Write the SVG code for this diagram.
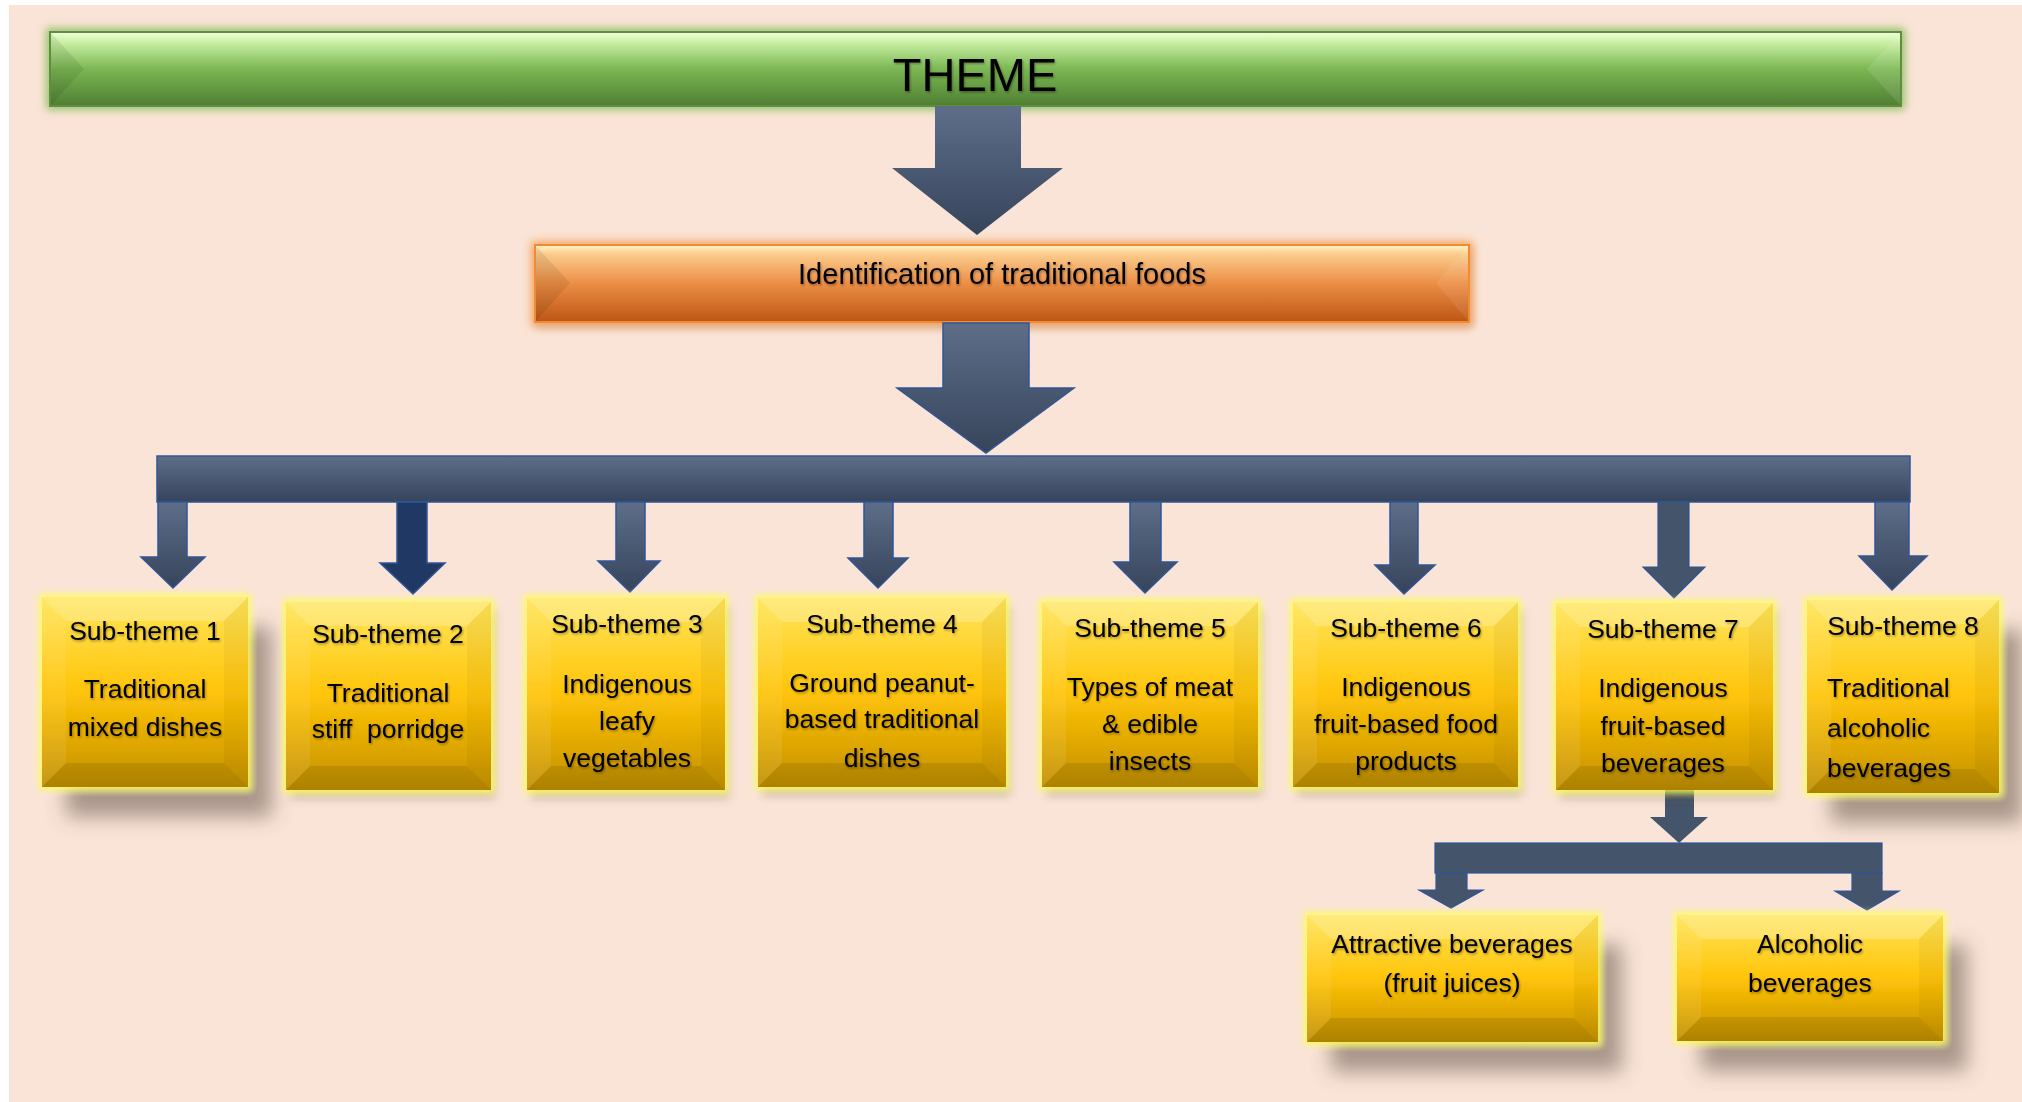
<svg xmlns="http://www.w3.org/2000/svg" width="2022" height="1102" viewBox="0 0 2022 1102">
<defs>
<style>
.t{font-family:"Liberation Sans",Arial,sans-serif;font-size:26.5px;fill:#000;text-anchor:middle;filter:url(#ts)}
.l{text-anchor:start}
.arr{fill:url(#gBlue);stroke:#2F5597;stroke-width:1.5}
.arrD{fill:#203864;stroke:#2F5597;stroke-width:1.5}
.arrS{fill:#44546A;stroke:#2F5597;stroke-width:1.2}
.box{fill:url(#gYel)}
.bt{fill:#fff;opacity:0.22}
.bl{fill:#fff;opacity:0.08}
.br{fill:#000;opacity:0.04}
.bb{fill:#000;opacity:0.09}
</style>
<linearGradient id="gYel" x1="0" y1="0" x2="0" y2="1">
<stop offset="0" stop-color="#FFE55A"/>
<stop offset="0.5" stop-color="#FFC409"/>
<stop offset="0.82" stop-color="#D9A200"/>
<stop offset="1" stop-color="#BF8F00"/>
</linearGradient>
<linearGradient id="gBlue" x1="0" y1="0" x2="0" y2="1">
<stop offset="0" stop-color="#5E6E89"/>
<stop offset="1" stop-color="#36445B"/>
</linearGradient>
<linearGradient id="gGreen" x1="0" y1="0" x2="0" y2="1">
<stop offset="0" stop-color="#F2FFE0"/>
<stop offset="0.12" stop-color="#CDF2A8"/>
<stop offset="0.5" stop-color="#7BB752"/>
<stop offset="1" stop-color="#4F7E33"/>
</linearGradient>
<linearGradient id="gOrange" x1="0" y1="0" x2="0" y2="1">
<stop offset="0" stop-color="#FFF7C4"/>
<stop offset="0.12" stop-color="#FBCB8C"/>
<stop offset="0.5" stop-color="#EC8E45"/>
<stop offset="1" stop-color="#BC5514"/>
</linearGradient>
<filter id="ts" x="-10%" y="-30%" width="120%" height="160%">
<feDropShadow dx="1" dy="1.5" stdDeviation="1" flood-color="#000" flood-opacity="0.35"/>
</filter>
<filter id="fxBig" x="-30%" y="-30%" width="170%" height="170%">
<feGaussianBlur in="SourceAlpha" stdDeviation="10" result="b"/>
<feOffset in="b" dx="24" dy="30" result="ob"/>
<feFlood flood-color="#5a4a40" flood-opacity="0.5"/>
<feComposite in2="ob" operator="in" result="sh"/>
<feMorphology in="SourceAlpha" operator="dilate" radius="3" result="d"/>
<feGaussianBlur in="d" stdDeviation="3" result="gb"/>
<feFlood flood-color="#FFFF55" flood-opacity="0.85"/>
<feComposite in2="gb" operator="in" result="glow"/>
<feMerge><feMergeNode in="sh"/><feMergeNode in="glow"/><feMergeNode in="SourceGraphic"/></feMerge>
</filter>
<filter id="fxSm" x="-20%" y="-20%" width="140%" height="140%">
<feGaussianBlur in="SourceAlpha" stdDeviation="5" result="b"/>
<feOffset in="b" dx="4" dy="8" result="ob"/>
<feFlood flood-color="#5a4a40" flood-opacity="0.35"/>
<feComposite in2="ob" operator="in" result="sh"/>
<feMorphology in="SourceAlpha" operator="dilate" radius="3" result="d"/>
<feGaussianBlur in="d" stdDeviation="3" result="gb"/>
<feFlood flood-color="#FFFF55" flood-opacity="0.85"/>
<feComposite in2="gb" operator="in" result="glow"/>
<feMerge><feMergeNode in="sh"/><feMergeNode in="glow"/><feMergeNode in="SourceGraphic"/></feMerge>
</filter>
<filter id="fxG" x="-5%" y="-40%" width="110%" height="180%">
<feMorphology in="SourceAlpha" operator="dilate" radius="3" result="d"/>
<feGaussianBlur in="d" stdDeviation="4" result="gb"/>
<feFlood flood-color="#8CC063" flood-opacity="0.9"/>
<feComposite in2="gb" operator="in" result="glow"/>
<feMerge><feMergeNode in="glow"/><feMergeNode in="SourceGraphic"/></feMerge>
</filter>
<filter id="fxO" x="-5%" y="-40%" width="110%" height="180%">
<feGaussianBlur in="SourceAlpha" stdDeviation="4" result="b"/>
<feOffset in="b" dx="2" dy="5" result="ob"/>
<feFlood flood-color="#5a4a40" flood-opacity="0.35"/>
<feComposite in2="ob" operator="in" result="sh"/>
<feMorphology in="SourceAlpha" operator="dilate" radius="3" result="d"/>
<feGaussianBlur in="d" stdDeviation="4" result="gb"/>
<feFlood flood-color="#F7A25A" flood-opacity="0.9"/>
<feComposite in2="gb" operator="in" result="glow"/>
<feMerge><feMergeNode in="sh"/><feMergeNode in="glow"/><feMergeNode in="SourceGraphic"/></feMerge>
</filter>
</defs>

<rect x="0" y="0" width="2022" height="1102" fill="#fff"/>
<rect x="9" y="5" width="2013" height="1097" fill="#FAE4D7"/>

<g id="theme">
<g filter="url(#fxG)">
<rect x="50" y="32" width="1851" height="74" fill="url(#gGreen)" stroke="#5E8F3C" stroke-width="2"/>
<polygon points="51,33 84,69 51,105" fill="#000" opacity="0.08"/>
<polygon points="1900,33 1867,69 1900,105" fill="#fff" opacity="0.1"/>
</g>
<text x="975" y="91" style="font-family:'Liberation Sans',Arial,sans-serif;font-size:47px;text-anchor:middle;fill:#000" filter="url(#ts)">THEME</text>
</g>

<g id="identification">
<g filter="url(#fxO)">
<rect x="535" y="245" width="934" height="77" fill="url(#gOrange)" stroke="#F08A34" stroke-width="2"/>
<polygon points="536,246 570,283 536,321" fill="#000" opacity="0.08"/>
<polygon points="1468,246 1436,283 1468,321" fill="#fff" opacity="0.08"/>
</g>
<text x="1002" y="284" style="font-family:'Liberation Sans',Arial,sans-serif;font-size:29px;text-anchor:middle;fill:#000" filter="url(#ts)">Identification of traditional foods</text>
</g>

<g id="connectors">
<polygon points="935,106 1021,106 1021,168 1063,168 977,235 892,168 935,168" fill="url(#gBlue)"/>
<polygon class="arr" points="943,323 1029,323 1029,388 1074,388 986,453 897,388 943,388"/>
<rect class="arr" x="157" y="456" width="1753" height="46"/>
<polygon class="arr" points="158,502 187,502 187,557 205,557 173,588 141,557 158,557"/>
<polygon class="arrD" points="397,502 427,502 427,563 445,563 413,594 380,563 397,563"/>
<polygon class="arr" points="616,502 645,502 645,561 660,561 630,592 598,561 616,561"/>
<polygon class="arr" points="864,502 893,502 893,558 908,558 878,588 848,558 864,558"/>
<polygon class="arr" points="1130,502 1161,502 1161,562 1177,562 1145,593 1114,562 1130,562"/>
<polygon class="arr" points="1390,502 1418,502 1418,565 1435,565 1404,594 1375,565 1390,565"/>
<polygon class="arrS" points="1658,502 1689,502 1689,567 1705,567 1674,598 1643,567 1658,567"/>
<polygon class="arr" points="1875,502 1909,502 1909,556 1927,556 1892,590 1859,556 1875,556"/>
<polygon fill="#44546A" points="1665,790 1694,790 1694,817 1708,817 1679,843 1650,817 1665,817"/>
<rect class="arrS" x="1435" y="843" width="447" height="30"/>
<polygon class="arrS" points="1436,873 1467,873 1467,890 1483,890 1451,908 1419,890 1436,890"/>
<polygon class="arrS" points="1852,873 1882,873 1882,891 1899,891 1867,910 1835,891 1852,891"/>
</g>

<g id="subtheme1">
<g filter="url(#fxBig)">
<rect class="box" x="42" y="597" width="206" height="190"/>
<polygon class="bt" points="42,597 248,597 224,621 66,621"/>
<polygon class="bl" points="42,597 66,621 66,763 42,787"/>
<polygon class="br" points="248,597 224,621 224,763 248,787"/>
<polygon class="bb" points="42,787 66,763 224,763 248,787"/>
</g>
<text class="t" x="145" y="640">Sub-theme 1</text>
<text class="t" x="145" y="698">Traditional</text>
<text class="t" x="145" y="736">mixed dishes</text>
</g>

<g id="subtheme2">
<g filter="url(#fxSm)">
<rect class="box" x="286" y="602" width="205" height="188"/>
<polygon class="bt" points="286,602 491,602 467,626 310,626"/>
<polygon class="bl" points="286,602 310,626 310,766 286,790"/>
<polygon class="br" points="491,602 467,626 467,766 491,790"/>
<polygon class="bb" points="286,790 310,766 467,766 491,790"/>
</g>
<text class="t" x="388" y="643">Sub-theme 2</text>
<text class="t" x="388" y="702">Traditional</text>
<text class="t" x="388" y="738" xml:space="preserve">stiff  porridge</text>
</g>

<g id="subtheme3">
<g filter="url(#fxSm)">
<rect class="box" x="527" y="598" width="198" height="192"/>
<polygon class="bt" points="527,598 725,598 701,622 551,622"/>
<polygon class="bl" points="527,598 551,622 551,766 527,790"/>
<polygon class="br" points="725,598 701,622 701,766 725,790"/>
<polygon class="bb" points="527,790 551,766 701,766 725,790"/>
</g>
<text class="t" x="627" y="633">Sub-theme 3</text>
<text class="t" x="627" y="693">Indigenous</text>
<text class="t" x="627" y="730">leafy</text>
<text class="t" x="627" y="767">vegetables</text>
</g>

<g id="subtheme4">
<g filter="url(#fxSm)">
<rect class="box" x="758" y="598" width="248" height="189"/>
<polygon class="bt" points="758,598 1006,598 982,622 782,622"/>
<polygon class="bl" points="758,598 782,622 782,763 758,787"/>
<polygon class="br" points="1006,598 982,622 982,763 1006,787"/>
<polygon class="bb" points="758,787 782,763 982,763 1006,787"/>
</g>
<text class="t" x="882" y="633">Sub-theme 4</text>
<text class="t" x="882" y="692">Ground peanut-</text>
<text class="t" x="882" y="728">based traditional</text>
<text class="t" x="882" y="767">dishes</text>
</g>

<g id="subtheme5">
<g filter="url(#fxSm)">
<rect class="box" x="1042" y="602" width="216" height="185"/>
<polygon class="bt" points="1042,602 1258,602 1234,626 1066,626"/>
<polygon class="bl" points="1042,602 1066,626 1066,763 1042,787"/>
<polygon class="br" points="1258,602 1234,626 1234,763 1258,787"/>
<polygon class="bb" points="1042,787 1066,763 1234,763 1258,787"/>
</g>
<text class="t" x="1150" y="637">Sub-theme 5</text>
<text class="t" x="1150" y="696">Types of meat</text>
<text class="t" x="1150" y="733">&amp; edible</text>
<text class="t" x="1150" y="770">insects</text>
</g>

<g id="subtheme6">
<g filter="url(#fxSm)">
<rect class="box" x="1293" y="602" width="225" height="185"/>
<polygon class="bt" points="1293,602 1518,602 1494,626 1317,626"/>
<polygon class="bl" points="1293,602 1317,626 1317,763 1293,787"/>
<polygon class="br" points="1518,602 1494,626 1494,763 1518,787"/>
<polygon class="bb" points="1293,787 1317,763 1494,763 1518,787"/>
</g>
<text class="t" x="1406" y="637">Sub-theme 6</text>
<text class="t" x="1406" y="696">Indigenous</text>
<text class="t" x="1406" y="733">fruit-based food</text>
<text class="t" x="1406" y="770">products</text>
</g>

<g id="subtheme7">
<g filter="url(#fxSm)">
<rect class="box" x="1556" y="603" width="217" height="187"/>
<polygon class="bt" points="1556,603 1773,603 1749,627 1580,627"/>
<polygon class="bl" points="1556,603 1580,627 1580,766 1556,790"/>
<polygon class="br" points="1773,603 1749,627 1749,766 1773,790"/>
<polygon class="bb" points="1556,790 1580,766 1749,766 1773,790"/>
</g>
<text class="t" x="1663" y="638">Sub-theme 7</text>
<text class="t" x="1663" y="697">Indigenous</text>
<text class="t" x="1663" y="735">fruit-based</text>
<text class="t" x="1663" y="772">beverages</text>
</g>

<g id="subtheme8">
<g filter="url(#fxBig)">
<rect class="box" x="1807" y="600" width="192" height="193"/>
<polygon class="bt" points="1807,600 1999,600 1975,624 1831,624"/>
<polygon class="bl" points="1807,600 1831,624 1831,769 1807,793"/>
<polygon class="br" points="1999,600 1975,624 1975,769 1999,793"/>
<polygon class="bb" points="1807,793 1831,769 1975,769 1999,793"/>
</g>
<text class="t" x="1903" y="635">Sub-theme 8</text>
<text class="t l" x="1827" y="697">Traditional</text>
<text class="t l" x="1827" y="737">alcoholic</text>
<text class="t l" x="1827" y="777">beverages</text>
</g>

<g id="attractive">
<g filter="url(#fxBig)">
<rect class="box" x="1307" y="915" width="291" height="127"/>
<polygon class="bt" points="1307,915 1598,915 1574,939 1331,939"/>
<polygon class="bl" points="1307,915 1331,939 1331,1018 1307,1042"/>
<polygon class="br" points="1598,915 1574,939 1574,1018 1598,1042"/>
<polygon class="bb" points="1307,1042 1331,1018 1574,1018 1598,1042"/>
</g>
<text class="t" x="1452" y="953">Attractive beverages</text>
<text class="t" x="1452" y="992">(fruit juices)</text>
</g>

<g id="alcoholic">
<g filter="url(#fxBig)">
<rect class="box" x="1677" y="915" width="266" height="126"/>
<polygon class="bt" points="1677,915 1943,915 1919,939 1701,939"/>
<polygon class="bl" points="1677,915 1701,939 1701,1017 1677,1041"/>
<polygon class="br" points="1943,915 1919,939 1919,1017 1943,1041"/>
<polygon class="bb" points="1677,1041 1701,1017 1919,1017 1943,1041"/>
</g>
<text class="t" x="1810" y="953">Alcoholic</text>
<text class="t" x="1810" y="992">beverages</text>
</g>
</svg>
